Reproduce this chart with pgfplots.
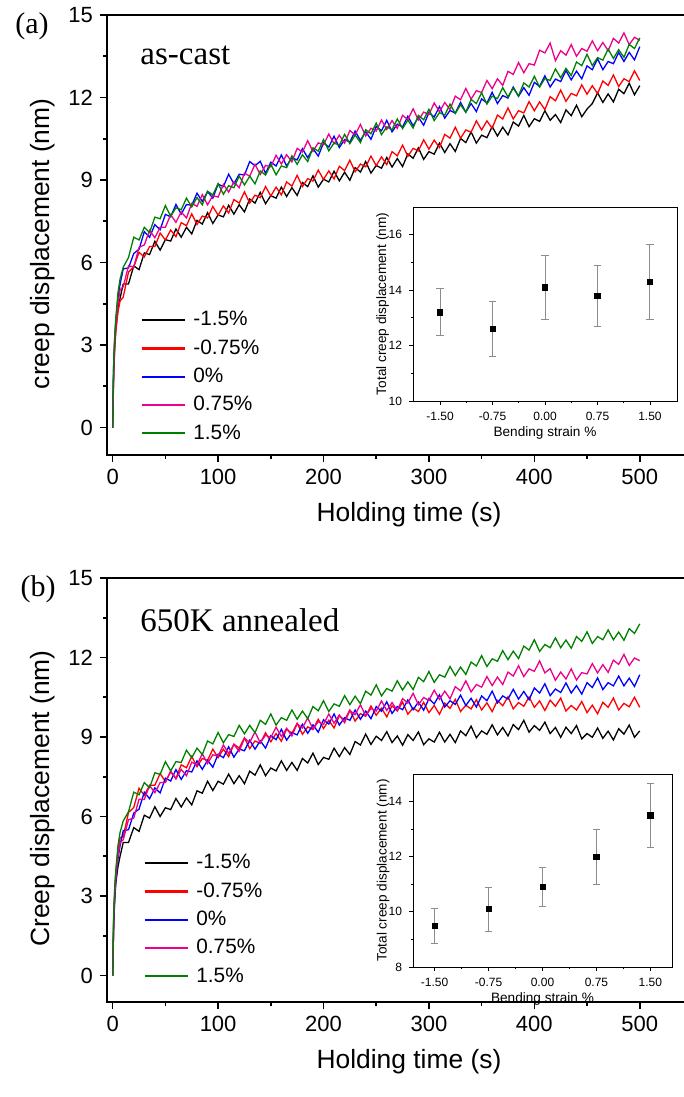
\documentclass[border=0pt]{standalone}
\usepackage{fontspec}
\setmainfont{Liberation Sans}
\newfontfamily\tnr{Liberation Serif}
\usepackage{pgfplots}
\usepackage{pgfplotstable}
\pgfplotsset{compat=1.18}

% creep curves, as-cast: k=-1.5%, r=-0.75%, b=0%, m=0.75%, g=1.5%
\pgfplotstableread{
t k r b m g
0 0 0 0 0 0
0.5 1.2 1.0 1.4 1.3 1.5
1 2.1 2.0 2.4 2.3 2.5
2 3.0 2.9 3.3 3.2 3.4
3 3.6 3.5 3.9 3.8 4.0
5 4.3 4.2 4.7 4.5 4.9
7 4.7 4.6 5.2 5.0 5.4
10 5.22 4.74 5.77 5.12 5.83
15 5.22 5.65 5.80 5.88 6.18
20 5.88 5.84 6.33 5.84 6.92
25 5.74 6.37 6.48 6.55 6.82
30 6.35 6.20 7.12 6.64 7.28
35 6.29 6.58 6.92 7.17 7.09
40 6.77 6.58 7.38 6.90 7.65
45 6.45 7.07 7.19 7.28 7.59
50 6.83 6.82 7.75 7.28 8.07
55 6.78 7.18 7.66 7.74 7.68
60 7.22 6.94 8.11 7.46 7.99
65 6.92 7.45 7.76 7.84 7.92
70 7.28 7.34 8.11 7.62 8.34
75 7.04 7.77 8.08 8.15 8.02
80 7.53 7.38 8.52 8.04 8.36
85 7.40 7.69 8.22 8.47 8.10
90 7.81 7.62 8.58 8.10 8.59
95 7.42 8.04 8.34 8.43 8.46
100 7.73 7.72 8.85 8.38 8.87
105 7.66 8.06 8.76 8.84 8.48
110 8.08 7.80 9.21 8.56 8.79
115 7.76 8.29 8.86 8.94 8.72
120 8.10 8.16 9.21 8.72 9.14
125 7.84 8.57 9.18 9.25 8.82
130 8.31 8.16 9.67 9.14 9.14
135 8.16 8.45 9.52 9.57 8.86
140 8.55 8.36 9.68 9.20 9.33
145 8.14 8.76 9.24 9.53 9.18
150 8.43 8.42 9.65 9.48 9.57
155 8.34 8.74 9.51 9.90 9.19
160 8.74 8.46 9.91 9.58 9.51
165 8.40 8.93 9.51 9.92 9.45
170 8.72 8.78 9.81 9.66 9.88
175 8.44 9.17 9.73 10.15 9.57
180 8.91 8.76 10.14 10.02 9.92
185 8.76 9.05 9.81 10.43 9.67
190 9.15 8.96 10.14 10.04 10.17
195 8.74 9.36 9.87 10.35 10.05
200 9.03 9.02 10.35 10.28 10.47
205 8.93 9.33 10.20 10.67 10.06
210 9.32 9.04 10.59 10.32 10.35
215 8.97 9.50 10.18 10.63 10.26
220 9.28 9.34 10.47 10.34 10.66
225 8.99 9.72 10.38 10.80 10.32
230 9.45 9.30 10.78 10.64 10.64
235 9.29 9.58 10.44 11.02 10.36
240 9.67 9.48 10.76 10.60 10.83
245 9.25 9.87 10.48 10.88 10.68
250 9.53 9.52 10.95 10.78 11.07
255 9.43 9.84 10.79 11.18 10.65
260 9.82 9.56 11.17 10.84 10.93
265 9.47 10.03 10.75 11.16 10.83
270 9.78 9.88 11.03 10.88 11.22
275 9.49 10.27 10.93 11.35 10.87
280 9.95 9.86 11.32 11.20 11.18
285 9.79 10.15 10.97 11.59 10.89
290 10.17 10.06 11.28 11.18 11.35
295 9.75 10.46 10.99 11.47 11.19
300 10.03 10.12 11.45 11.38 11.57
305 9.94 10.45 11.29 11.80 11.16
310 10.34 10.18 11.67 11.48 11.45
315 10.00 10.66 11.25 11.82 11.36
320 10.32 10.52 11.53 11.56 11.76
325 10.04 10.92 11.43 12.05 11.42
330 10.51 10.52 11.82 11.92 11.74
335 10.36 10.82 11.47 12.33 11.46
340 10.75 10.74 11.78 11.94 11.93
345 10.34 11.15 11.49 12.25 11.78
350 10.63 10.82 11.95 12.18 12.17
355 10.54 11.15 11.80 12.62 11.76
360 10.94 10.88 12.19 12.32 12.05
365 10.60 11.36 11.78 12.68 11.96
370 10.92 11.22 12.07 12.44 12.36
375 10.64 11.62 11.98 12.95 12.02
380 11.11 11.22 12.38 12.84 12.34
385 10.96 11.52 12.04 13.27 12.06
390 11.35 11.44 12.36 12.90 12.53
395 10.94 11.85 12.08 13.23 12.38
400 11.23 11.52 12.55 13.18 12.77
405 11.13 11.84 12.40 13.72 12.38
410 11.52 11.56 12.79 13.62 12.69
415 11.17 12.03 12.38 13.98 12.62
420 11.38 11.88 12.67 13.34 13.04
425 11.09 12.27 12.58 13.70 12.72
430 11.55 11.86 12.98 13.54 13.06
435 11.34 12.15 12.64 13.92 12.80
440 11.72 12.06 12.96 13.50 13.29
445 11.30 12.46 12.68 13.78 13.16
450 11.58 12.12 13.15 13.68 13.57
455 11.78 12.43 13.01 14.06 13.16
460 12.17 12.14 13.41 13.70 13.45
465 11.82 12.60 13.01 14.00 13.36
470 12.13 12.44 13.31 13.70 13.76
475 11.84 12.82 13.23 14.15 13.42
480 12.30 12.40 13.64 13.98 13.74
485 12.14 12.68 13.31 14.35 13.46
490 12.52 12.58 13.64 13.92 13.93
495 12.10 12.97 13.37 14.19 13.78
500 12.43 12.62 13.85 14.08 14.17
}\castdata

% creep curves, 650K annealed
\pgfplotstableread{
t k r b m g
0 0 0 0 0 0
0.5 1.0 1.2 1.1 1.1 1.3
1 2.0 2.3 2.1 2.2 2.4
2 2.9 3.3 3.0 3.1 3.4
3 3.5 3.9 3.6 3.7 4.0
5 4.1 4.7 4.4 4.5 4.9
7 4.5 5.2 4.9 5.0 5.4
10 5.02 5.24 5.47 5.12 5.83
15 5.02 6.15 5.50 5.88 6.18
20 5.58 6.34 6.13 5.94 6.92
25 5.44 7.07 6.28 6.65 6.82
30 6.05 6.80 6.92 6.64 7.28
35 5.94 7.18 6.67 7.17 7.09
40 6.37 7.18 7.08 6.90 7.65
45 6.00 7.62 6.89 7.28 7.59
50 6.33 7.32 7.45 7.28 8.07
55 6.26 7.68 7.34 7.72 7.72
60 6.68 7.44 7.77 7.42 8.07
65 6.36 7.95 7.40 7.78 8.04
70 6.70 7.84 7.73 7.54 8.50
75 6.44 8.27 7.68 8.05 8.22
80 6.97 7.88 8.10 7.94 8.58
85 6.88 8.19 7.78 8.37 8.34
90 7.33 8.12 8.12 8.00 8.85
95 6.98 8.54 7.86 8.33 8.74
100 7.33 8.22 8.35 8.28 9.17
105 7.22 8.54 8.22 8.70 8.78
110 7.60 8.26 8.63 8.38 9.09
115 7.24 8.73 8.24 8.72 9.02
120 7.54 8.58 8.55 8.46 9.44
125 7.24 8.97 8.48 8.95 9.12
130 7.71 8.56 8.88 8.80 9.44
135 7.56 8.85 8.54 9.19 9.16
140 7.95 8.76 8.86 8.78 9.63
145 7.54 9.16 8.58 9.07 9.48
150 7.83 8.82 9.05 8.98 9.87
155 7.72 9.13 8.90 9.37 9.45
160 8.10 8.84 9.29 9.02 9.73
165 7.74 9.30 8.88 9.33 9.63
170 8.04 9.14 9.17 9.04 10.02
175 7.74 9.52 9.08 9.50 9.67
180 8.19 9.10 9.48 9.34 9.98
185 8.02 9.38 9.14 9.72 9.69
190 8.39 9.28 9.46 9.30 10.15
195 7.96 9.67 9.18 9.58 9.99
200 8.23 9.32 9.65 9.48 10.37
205 8.16 9.63 9.49 9.87 9.96
210 8.58 9.34 9.87 9.52 10.25
215 8.26 9.80 9.45 9.83 10.16
220 8.60 9.64 9.73 9.54 10.56
225 8.34 10.02 9.63 10.00 10.22
230 8.83 9.60 10.02 9.84 10.54
235 8.70 9.88 9.67 10.22 10.26
240 9.11 9.78 9.98 9.80 10.73
245 8.72 10.17 9.69 10.08 10.58
250 9.03 9.82 10.15 9.98 10.97
255 8.87 10.09 9.97 10.36 10.55
260 9.20 9.76 10.33 10.00 10.83
265 8.79 10.18 9.89 10.30 10.73
270 9.04 9.98 10.15 10.00 11.12
275 8.69 10.32 10.03 10.45 10.77
280 9.09 9.86 10.40 10.28 11.08
285 8.87 10.10 10.03 10.65 10.79
290 9.19 9.96 10.32 10.22 11.25
295 8.71 10.31 10.01 10.49 11.09
300 8.93 9.92 10.45 10.38 11.47
305 8.81 10.19 10.25 10.77 11.06
310 9.18 9.86 10.59 10.42 11.35
315 8.81 10.28 10.13 10.73 11.26
320 9.10 10.08 10.37 10.44 11.66
325 8.79 10.42 10.23 10.90 11.32
330 9.23 9.96 10.58 10.74 11.64
335 9.05 10.20 10.19 11.12 11.36
340 9.41 10.06 10.46 10.70 11.83
345 8.97 10.41 10.13 10.98 11.68
350 9.23 10.02 10.55 10.88 12.07
355 9.10 10.29 10.37 11.28 11.66
360 9.46 9.96 10.73 10.94 11.95
365 9.08 10.38 10.29 11.26 11.86
370 9.36 10.18 10.55 10.98 12.26
375 9.04 10.52 10.43 11.45 11.92
380 9.47 10.06 10.80 11.30 12.24
385 9.28 10.30 10.43 11.69 11.96
390 9.63 10.16 10.72 11.28 12.43
395 9.18 10.51 10.41 11.57 12.28
400 9.43 10.12 10.85 11.48 12.67
405 9.25 10.36 10.66 11.87 12.23
410 9.56 10.00 11.01 11.42 12.49
415 9.13 10.39 10.56 11.58 12.37
420 9.36 10.16 10.81 11.14 12.74
425 8.99 10.47 10.68 11.45 12.37
430 9.37 9.98 11.04 11.19 12.66
435 9.13 10.19 10.66 11.57 12.35
440 9.43 10.02 10.94 11.15 12.79
445 8.93 10.34 10.62 11.43 12.61
450 9.13 9.92 11.05 11.38 12.97
455 8.99 10.20 10.87 11.77 12.53
460 9.34 9.88 11.23 11.42 12.79
465 8.95 10.31 10.79 11.73 12.67
470 9.22 10.12 11.05 11.44 13.04
475 8.89 10.47 10.93 11.90 12.67
480 9.31 10.02 11.30 11.74 12.96
485 9.11 10.27 10.93 12.12 12.65
490 9.45 10.14 11.22 11.70 13.09
495 8.99 10.50 10.91 11.98 12.91
500 9.23 10.12 11.35 11.88 13.27
}\annealdata

% insets: total creep displacement vs bending strain
\pgfplotstableread{
x y e
-1.5 13.2 0.85
-0.75 12.6 1.0
0 14.1 1.15
0.75 13.8 1.1
1.5 14.3 1.35
}\castinset
\pgfplotstableread{
x y e
-1.5 9.5 0.64
-0.75 10.1 0.8
0 10.9 0.7
0.75 12.0 1.0
1.5 13.5 1.15
}\annealinset

\definecolor{cgreen}{HTML}{008000}
\definecolor{ebar}{HTML}{8C8C8C}

\pgfplotsset{
  mainax/.style={
    scale only axis, width=302pt,
    xmin=-5.4, xmax=567.6, ymin=-1, ymax=15,
    xtick={0,100,...,500}, ytick={0,3,...,15},
    minor x tick num=1, minor y tick num=1,
    tick align=outside, tick pos=left,
    major tick length=3.5pt, minor tick length=2pt,
    tick style={black, line width=0.8pt},
    axis line style={line width=1pt},
    ticklabel style={font=\fontsize{11}{13}\selectfont},
    xticklabel={\mbox{\pgfmathprintnumber[assume math mode=true]{\tick}}},
    yticklabel={\mbox{\pgfmathprintnumber[assume math mode=true]{\tick}}},
    label style={font=\fontsize{13.2}{15}\selectfont},
    xlabel={Holding time (s)},
    ylabel style={at={(axis description cs:-0.106,0.48)}, rotate=0, anchor=center},
    every axis plot/.append style={line width=0.65pt},
    legend style={draw=none, fill=none, inner sep=0pt, anchor=north west,
      font=\fontsize{10.4}{12}\selectfont, row sep=2.4pt,
      nodes={inner sep=1.5pt}},
    legend cell align=left,
    legend image code/.code={\draw[##1,line width=1.1pt] (0pt,0pt) -- (21.5pt,0pt); \path (24pt,0pt);},
  },
  inax/.style={
    scale only axis, axis background/.style={fill=white},
    xmin=-1.886, xmax=1.886,
    xtick={-1.5,-0.75,0,0.75,1.5},
    xticklabel={\mbox{\pgfmathprintnumber[fixed,fixed zerofill,precision=2,assume math mode=true]{\tick}}},
    yticklabel={\mbox{\pgfmathprintnumber[assume math mode=true]{\tick}}},
    minor x tick num=1, minor y tick num=1,
    tick align=outside, tick pos=left,
    major tick length=2pt, minor tick length=1.2pt,
    tick style={black, line width=0.4pt},
    axis line style={line width=0.5pt},
    ticklabel style={font=\fontsize{6}{7}\selectfont},
    label style={font=\fontsize{6.8}{8}\selectfont},
    xlabel={Bending strain \%},
    ylabel={Total creep displacement (nm)},
    xlabel style={at={(axis description cs:0.5,-0.165)}, anchor=center},
    ylabel style={at={(axis description cs:-0.115,0.5)}, anchor=center},
  },
  inplot/.style={only marks, mark=square*, mark size=1.3pt, black,
    error bars/.cd, y dir=both, y explicit,
    error bar style={ebar, line width=0.5pt},
    error mark options={rotate=90, mark size=1.8pt, ebar, line width=0.5pt}},
}

\begin{document}
\begin{tikzpicture}
\useasboundingbox (0,0) rectangle (342pt,-548.5pt);

% ---- (a) as-cast ----
\begin{axis}[mainax, at={(53.5pt,-227.5pt)}, anchor=south west, height=220pt,
  ylabel={creep displacement (nm)},
  xlabel style={at={(axis description cs:0.5,-0.136)}, anchor=center},
  legend style={at={(0.055,0.334)}}]
\addplot[black] table[x=t,y=k] {\castdata};
\addplot[red] table[x=t,y=r] {\castdata};
\addplot[blue] table[x=t,y=b] {\castdata};
\addplot[magenta] table[x=t,y=m] {\castdata};
\addplot[cgreen] table[x=t,y=g] {\castdata};
\legend{-1.5\%,-0.75\%,0\%,0.75\%,1.5\%}
\node[anchor=west, inner sep=0pt, font=\tnr\fontsize{16.5}{18}\selectfont] at (axis cs:26,13.55) {as-cast};
\end{axis}

\begin{axis}[inax, at={(206.5pt,-200.5pt)}, anchor=south west,
  width=132pt, height=97pt, ymin=10, ymax=17, ytick={10,12,14,16}]
\addplot[inplot] table[x=x,y=y,y error=e] {\castinset};
\end{axis}

% ---- (b) 650K annealed ----
\begin{axis}[mainax, at={(53.5pt,-501pt)}, anchor=south west, height=212pt,
  ylabel={Creep displacement (nm)},
  xlabel style={at={(axis description cs:0.5,-0.1415)}, anchor=center},
  legend style={at={(0.06,0.356)}}]
\addplot[black] table[x=t,y=k] {\annealdata};
\addplot[red] table[x=t,y=r] {\annealdata};
\addplot[blue] table[x=t,y=b] {\annealdata};
\addplot[magenta] table[x=t,y=m] {\annealdata};
\addplot[cgreen] table[x=t,y=g] {\annealdata};
\legend{-1.5\%,-0.75\%,0\%,0.75\%,1.5\%}
\node[anchor=west, inner sep=0pt, font=\tnr\fontsize{16.5}{18}\selectfont] at (axis cs:26,13.4) {650K annealed};
\end{axis}

\begin{axis}[inax, at={(206.5pt,-483.5pt)}, anchor=south west,
  width=129.5pt, height=96.5pt, xmin=-1.8, xmax=1.8, ymin=8, ymax=15, ytick={8,10,12,14}]
\addplot[inplot] table[x=x,y=y,y error=e] {\annealinset};
\end{axis}

\node[font=\tnr\fontsize{15}{17}\selectfont] at (16pt,-13pt) {(a)};
\node[font=\tnr\fontsize{15}{17}\selectfont] at (19pt,-294.5pt) {(b)};
\end{tikzpicture}
\end{document}
